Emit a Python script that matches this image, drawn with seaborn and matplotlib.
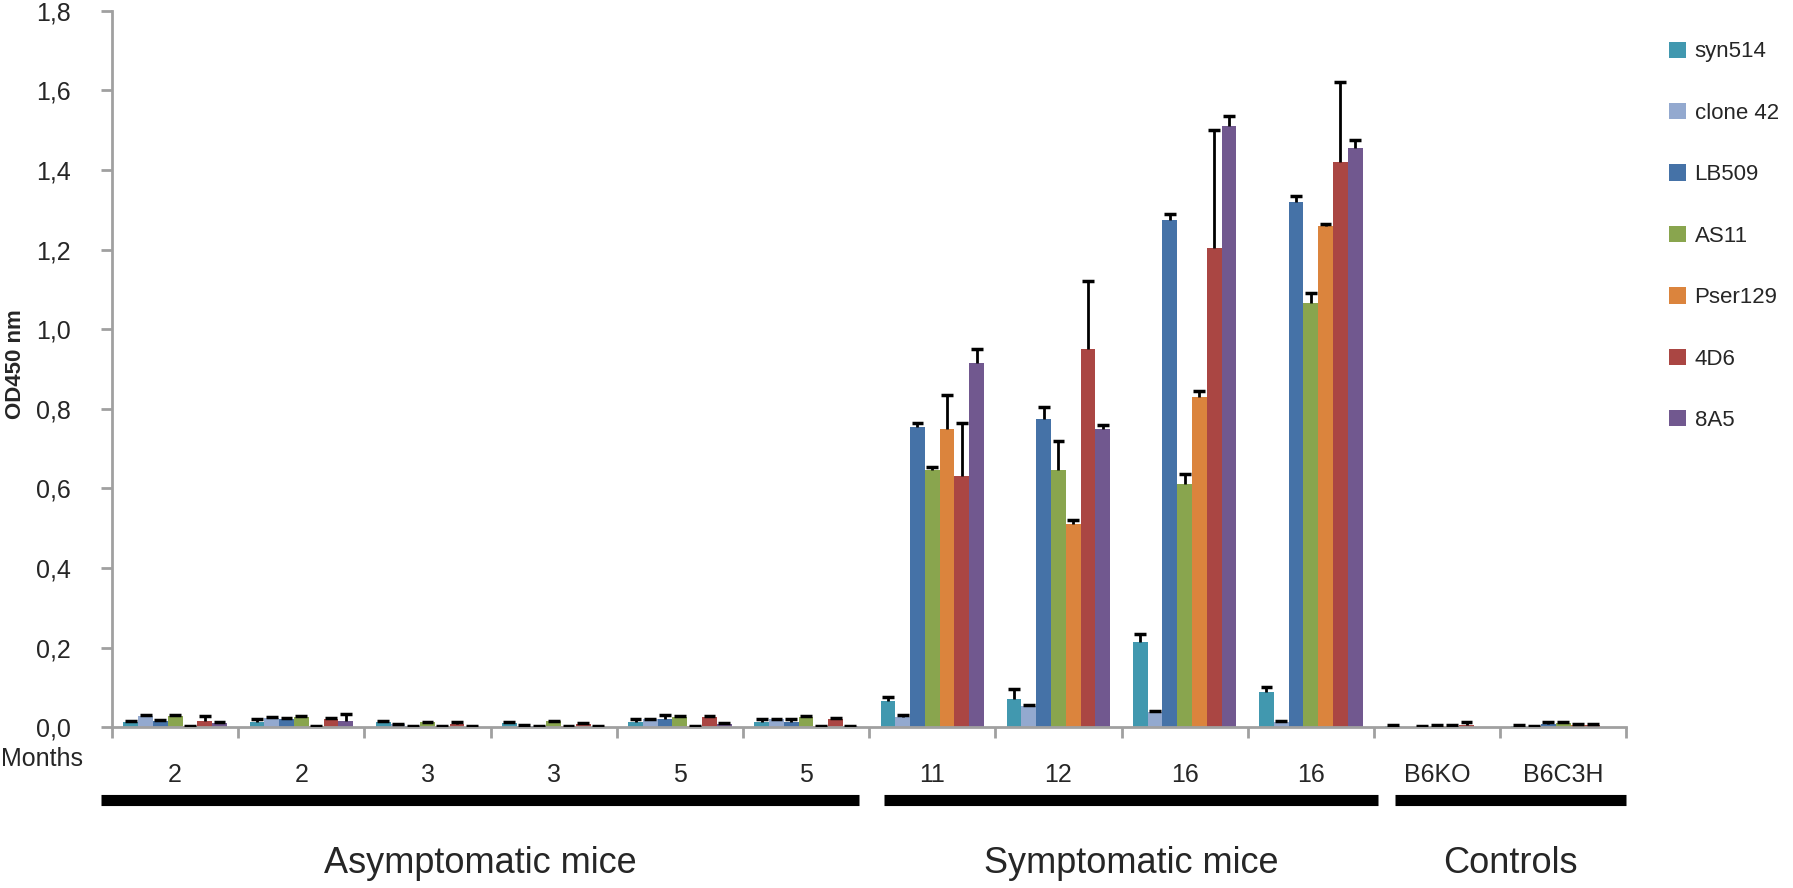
import numpy as np
import pandas as pd
import matplotlib
matplotlib.use('Agg')
import matplotlib.pyplot as plt
import matplotlib.transforms as mtransforms
from matplotlib.ticker import FuncFormatter, MultipleLocator
import seaborn as sns

# groups on the x axis
months = ['2', '2', '3', '3', '5', '5', '11', '12', '16', '16', 'B6KO', 'B6C3H']
antibodies = ['syn514', 'clone 42', 'LB509', 'AS11', 'Pser129', '4D6', '8A5']
colors = ['#4198AF', '#93A9CF', '#4572A7', '#89A54E', '#DB843D', '#AA4643', '#71588F']

# OD450 mean values, one list per antibody (one value per group)
syn514 = [0.013, 0.012, 0.013, 0.011, 0.012, 0.012, 0.066, 0.071, 0.214, 0.088, 0.002, 0.002]
clone42 = [0.029, 0.023, 0.008, 0.004, 0.020, 0.020, 0.025, 0.054, 0.038, 0.014, -0.005, 0.001]
lb509 = [0.015, 0.022, 0.002, 0.002, 0.021, 0.012, 0.755, 0.775, 1.275, 1.320, 0.001, 0.008]
as11 = [0.029, 0.027, 0.012, 0.015, 0.027, 0.027, 0.645, 0.645, 0.610, 1.065, 0.003, 0.010]
pser129 = [0.002, 0.002, 0.002, 0.002, 0.002, 0.002, 0.750, 0.510, 0.830, 1.260, 0.003, 0.005]
d4d6 = [0.017, 0.022, 0.009, 0.008, 0.027, 0.022, 0.630, 0.950, 1.205, 1.420, 0.006, 0.005]
a8a5 = [0.011, 0.017, 0.001, 0.001, 0.008, 0.003, 0.915, 0.750, 1.510, 1.455, -0.005, -0.005]

# upper error bars
syn514_err = [0.004, 0.010, 0.004, 0.002, 0.008, 0.008, 0.010, 0.026, 0.020, 0.014, 0.003, 0.003]
clone42_err = [0.003, 0.002, 0.001, 0.001, 0.002, 0.002, 0.005, 0.003, 0.003, 0.002, 0.001, 0.001]
lb509_err = [0.003, 0.002, 0.001, 0.001, 0.011, 0.008, 0.010, 0.030, 0.015, 0.015, 0.001, 0.004]
as11_err = [0.002, 0.002, 0.001, 0.001, 0.002, 0.002, 0.010, 0.075, 0.025, 0.025, 0.002, 0.003]
pser129_err = [0.002, 0.002, 0.002, 0.002, 0.002, 0.002, 0.085, 0.010, 0.015, 0.005, 0.002, 0.003]
d4d6_err = [0.012, 0.002, 0.003, 0.003, 0.002, 0.002, 0.135, 0.170, 0.295, 0.200, 0.006, 0.002]
a8a5_err = [0.003, 0.017, 0.001, 0.001, 0.002, 0.001, 0.035, 0.010, 0.025, 0.020, 0.001, 0.001]

values = [syn514, clone42, lb509, as11, pser129, d4d6, a8a5]
errors = [syn514_err, clone42_err, lb509_err, as11_err, pser129_err, d4d6_err, a8a5_err]

rows = []
for ab, vals in zip(antibodies, values):
    for g, v in enumerate(vals):
        rows.append({'group': g, 'antibody': ab, 'od': v})
df = pd.DataFrame(rows)

sns.set_style('white')
plt.rcParams['font.family'] = ['Liberation Sans', 'DejaVu Sans']

fig = plt.figure(figsize=(17.93, 8.88), dpi=100)
ax = fig.add_axes([0.0625, 0.181, 0.8445, 0.807])

sns.barplot(data=df, x='group', y='od', hue='antibody', hue_order=antibodies,
            palette=colors, errorbar=None, width=0.82, gap=0, saturation=1,
            linewidth=0, ax=ax)

# upper error bars only (stem + top cap)
for cont, errs in zip(ax.containers, errors):
    for patch, e in zip(cont, errs):
        w = patch.get_width()
        xc = patch.get_x() + w / 2
        h = patch.get_height()
        ax.vlines(xc, h, h + e, color='black', lw=2, zorder=3)
        ax.hlines(h + e, xc - w * 0.4, xc + w * 0.4, color='black', lw=2.5, zorder=3)

ax.set_ylim(0, 1.8)
ax.set_xlim(-0.5, 11.5)
ax.yaxis.set_major_locator(MultipleLocator(0.2))
ax.yaxis.set_major_formatter(FuncFormatter(lambda v, p: f'{v:.1f}'.replace('.', ',')))

for s in ['top', 'right']:
    ax.spines[s].set_visible(False)
for s in ['left', 'bottom']:
    ax.spines[s].set_color('#A0A0A0')
    ax.spines[s].set_linewidth(2)

ax.set_xticks(range(len(months)))
ax.set_xticklabels(months)
ax.set_xticks(np.arange(-0.5, 12.0, 1.0), minor=True)
ax.tick_params(axis='x', which='major', length=0, pad=26, labelsize=18)
ax.tick_params(axis='x', which='minor', length=8, width=2, color='#A0A0A0', direction='out', bottom=True)
ax.tick_params(axis='y', length=8, width=2, color='#A0A0A0', direction='out', left=True,
               pad=22, labelsize=18)

ax.set_xlabel('')
ax.set_ylabel('')
fig.text(0.0085, 0.59, 'OD450 nm', rotation=90, ha='center', va='center',
         fontsize=16, fontweight='bold')

trans = mtransforms.blended_transform_factory(ax.transData, ax.transAxes)
fig.text(0.0005, 1 - 759 / 888, 'Months', ha='left', va='center', fontsize=18)

# group brackets and labels
brackets = [(-0.59, 5.42, 'Asymptomatic mice'), (5.62, 9.53, 'Symptomatic mice'),
            (9.67, 11.5, 'Controls')]
for x0, x1, lab in brackets:
    ax.plot([x0, x1], [-0.102, -0.102], color='black', lw=8, transform=trans,
            clip_on=False, solid_capstyle='butt')
    ax.text((x0 + x1) / 2, -0.19, lab, transform=trans, ha='center', va='center',
            fontsize=26)

ax.legend(loc='upper left', bbox_to_anchor=(1.015, 0.985), frameon=False, fontsize=16,
          handlelength=0.75, handleheight=0.75, handletextpad=0.4, labelspacing=1.82)

fig.savefig('out.png', dpi=100)
